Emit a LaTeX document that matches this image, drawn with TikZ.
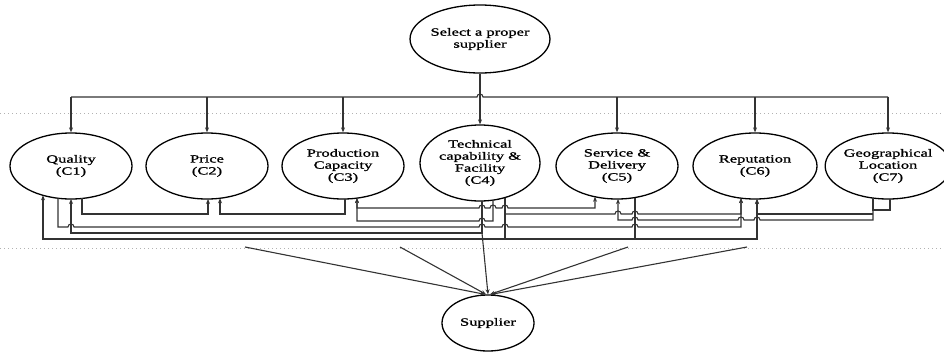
\documentclass[tikz,border=0pt]{standalone}
\usepackage{fontspec}
\newfontfamily\labfont{Liberation Serif}[FakeStretch=1.5,FakeBold=1.2]
\usetikzlibrary{arrows.meta,calc,shapes.geometric}
\newcommand\bpc[5]{\coordinate (#1) at ($(#2.center)+(#3,{#5*sqrt(1-(#3/#4)^2)})$);}
\tikzset{
  crit/.style={draw=black, line width=1.3pt, ellipse, minimum width=122pt, minimum height=66pt,
    inner sep=0pt, align=center, font=\labfont\fontsize{11}{12}\selectfont},
  conn/.style={draw=black!80, line width=1.1pt},
  arr/.style={conn, -{Stealth[length=5pt,width=4pt]}},
  arrb/.style={conn, {Stealth[length=5pt,width=4pt]}-{Stealth[length=5pt,width=4pt]}},
  sepline/.style={draw=gray!60, line width=0.7pt, dash pattern=on 1pt off 3pt},
  hr/.style={start angle=180,end angle=360,radius=3},
  hl/.style={start angle=0,end angle=-180,radius=3},
}
\begin{document}
\begin{tikzpicture}[x=1pt,y=-1pt]
\useasboundingbox (0,0) rectangle (944,351);
\draw[sepline] (0,113) -- (944,113);
\draw[sepline] (0,248) -- (944,248);

\node[crit, minimum width=120pt, minimum height=68pt] (top) at (480,39) {Select a proper\\supplier};
\node[crit] (c1) at (71,166) {Quality\\(C1)};
\node[crit] (c2) at (207,166) {Price\\(C2)};
\node[crit] (c3) at (343,166) {Production\\Capacity\\(C3)};
\node[crit, minimum width=120pt, minimum height=76pt] (c4) at (480,163) {Technical\\capability \&\\Facility\\(C4)};
\node[crit] (c5) at (617,166) {Service \&\\Delivery\\(C5)};
\node[crit, minimum width=124pt] (c6) at (755,166) {Reputation\\(C6)};
\node[crit] (c7) at (888,166) {Geographical\\Location\\(C7)};
\node[crit, minimum width=92pt, minimum height=56pt] (sup) at (488,323) {Supplier};

% top distribution
\draw[conn] (c1.north |- 0,97) -- (477,97) arc[hr] -- (c7.north |- 0,97);
\draw[arr] (top.south) -- (c4.north);
\foreach \n in {c1,c2,c3,c5,c6,c7} \draw[arr] (\n.north |- 0,97) -- (\n.north);

% border points
\bpc{c1a}{c1}{-28}{61}{33}
\bpc{c1b}{c1}{-13}{61}{33}
\bpc{c1c}{c1}{0}{61}{33}
\bpc{c1d}{c1}{11}{61}{33}
\bpc{c2a}{c2}{1}{61}{33}
\bpc{c2b}{c2}{13}{61}{33}
\bpc{c3a}{c3}{2}{61}{33}
\bpc{c3b}{c3}{14}{61}{33}
\bpc{c4a}{c4}{2}{60}{38}
\bpc{c4b}{c4}{13}{60}{38}
\bpc{c4c}{c4}{25}{60}{38}
\bpc{c5a}{c5}{-22}{61}{33}
\bpc{c5b}{c5}{1}{61}{33}
\bpc{c5c}{c5}{18}{61}{33}
\bpc{c6a}{c6}{-14}{62}{33}
\bpc{c6b}{c6}{2}{62}{33}
\bpc{c7a}{c7}{-15}{62}{33}
\bpc{c7b}{c7}{2}{62}{33}

% interdependencies
\draw[arr] (c1d) -- (c1d |- 0,214) -| (c2a);
\draw[arr] (c3a) -- (c3a |- 0,214) -| (c2b);
\draw[arr] (c4b) -- (c4b |- 0,221) -- (485,221) arc[hl] -- (c3b |- 0,221) -- (c3b);
\draw[arrb] (c5a) -- (c5a |- 0,208) -- (508,208) arc[hl] -- (496,208) arc[hl] -- (485,208) arc[hl] -- (c3b |- 0,208) -- (c3b);
\draw[arr] (c1b) -- (c1b |- 0,227) -- (68,227) arc[hr] -- (479,227) arc[hr] -- (502,227) arc[hr] -- (632,227) arc[hr] -- (c6a |- 0,227) -- (c6a);
\draw[arr] (c4a) -- (c4a |- 0,233) -| (c1c);
\draw[arr] (c4c) -- (c4c |- 0,239) -| (c1a);
\draw[arr] (c4c |- 0,239) -| (c6b);
\draw[conn] (c5c) -- (c5c |- 0,239);
\draw[arr] (c4c |- 0,214) -- (615,214) arc[hr] -- (632,214) arc[hr] -- (c6a |- 0,214) -- (c6a);
\draw[arr] (c7a) -- (c7a |- 0,220) -- (760,220) arc[hl] -- (744,220) arc[hl] -- (638,220) arc[hl] -- (c5b |- 0,220) -- (c5b);
\draw[arr] (c7a |- 0,214) -| (c6b);
\draw[conn] (c7b) -- (c7b |- 0,210) -| (c7a);

% to supplier
\coordinate (s1) at (245,247);
\coordinate (s2) at (400,247);
\coordinate (s4) at (628,247);
\coordinate (s5) at (747,247);
\draw[arr] (s1) -- ([xshift=-3pt]sup.north);
\draw[arr] (s2) -- ([xshift=-2pt]sup.north);
\draw[arr] (c4a |- 0,233) -- (sup.north);
\draw[arr] (s4) -- ([xshift=2pt]sup.north);
\draw[arr] (s5) -- ([xshift=3pt]sup.north);
\end{tikzpicture}
\end{document}
